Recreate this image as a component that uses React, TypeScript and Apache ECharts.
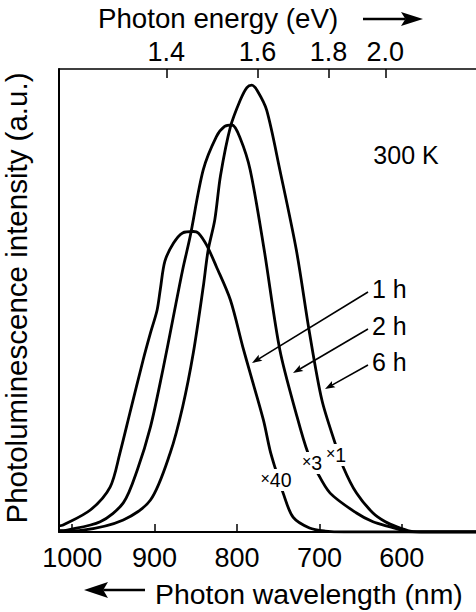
import React, { useEffect, useRef } from "react";
import * as echarts from "echarts";

// Bottom axis: photon wavelength (nm); top axis: photon energy (eV)
const wavelengthTicks = [1000, 900, 800, 700, 600];
const energyTicks = [1.4, 1.6, 1.8, 2.0];
const HC = 1240; // eV·nm

const seriesNames = ["1 h", "2 h", "6 h"];
const scaleLabels = ["×40", "×3", "×1"];

// [wavelength nm, PL intensity a.u.]
const curve1h: [number, number][] = [
  [1016, 1.3], [1011, 1.5], [978, 4.75], [954, 9.7], [942, 17.1], [930, 25.7],
  [914, 37.1], [905, 43.0], [897, 47.9], [893, 52.5], [887.5, 58.5], [877, 62.4],
  [866, 64.6], [853, 64.9], [847, 64.6], [837, 62.0], [825, 57.3], [808, 50.1],
  [793, 40.0], [784, 34.3], [768, 24.2], [760, 17.7], [754, 14.0], [744, 8.4],
  [732, 3.2], [712, 0.86], [693, 0.2], [670, 0], [510, 0],
];
const curve2h: [number, number][] = [
  [1016, 0.3], [1006, 0.43], [966, 2.2], [938, 6.3], [921, 13.4], [905, 22.7],
  [890, 35.0], [878, 45.8], [866, 56.6], [857, 63.7], [841, 78.2], [825, 85.4],
  [815, 87.6], [806, 87.9], [796, 85.0], [784, 78.2], [767, 60.9], [748, 39.3],
  [727, 24.8], [714, 17.1], [703, 13.0], [687, 8.4], [655, 4.1], [635, 2.2],
  [614, 1.1], [596, 0.2], [570, 0], [510, 0],
];
const curve6h: [number, number][] = [
  [1016, 0.2], [987, 0.4], [938, 2.6], [905, 6.9], [881, 17.1], [866, 27.0],
  [853, 38.7], [841, 52.9], [835, 60.9], [827, 67.4], [820, 77.0], [808, 87.5],
  [796, 93.3], [788, 96.0], [782, 96.5], [775, 95.2], [764, 91.1], [748, 78.2],
  [728, 60.9], [712, 43.0], [697, 28.5], [681, 19.2], [671, 14.0], [655, 8.4],
  [635, 4.1], [620, 2.2], [606, 1.1], [590, 0.2], [570, 0], [510, 0],
];

const FONT = "'Liberation Sans', Arial, Helvetica, sans-serif";

function arrow(x1: number, y1: number, x2: number, y2: number, len: number, half: number, width: number) {
  const dx = x2 - x1;
  const dy = y2 - y1;
  const L = Math.hypot(dx, dy);
  const ux = dx / L;
  const uy = dy / L;
  const nx = -uy;
  const ny = ux;
  const bx = x2 - ux * len;
  const by = y2 - uy * len;
  const ix = x2 - ux * len * 0.8;
  const iy = y2 - uy * len * 0.8;
  return [
    {
      type: "line",
      z: 100,
      shape: { x1, y1, x2: ix, y2: iy },
      style: { stroke: "#000", lineWidth: width },
    },
    {
      type: "polygon",
      z: 100,
      shape: {
        points: [
          [x2, y2],
          [bx + nx * half, by + ny * half],
          [ix, iy],
          [bx - nx * half, by - ny * half],
        ],
      },
      style: { fill: "#000" },
    },
  ];
}

export default function App() {
  const ref = useRef<HTMLDivElement>(null);
  useEffect(() => {
    const chart = echarts.init(ref.current!, null, { renderer: "svg" });
    const curves = [curve1h, curve2h, curve6h].map((c) =>
      c.slice().sort((a, b) => a[0] - b[0])
    );
    const scalePos = [
      [276, 480],
      [312, 463],
      [336, 455],
    ];
    const nameLabelY = [289, 326, 362];
    const arrowTips = [
      [252, 363],
      [293, 373],
      [325, 389],
    ];
    const graphics: any[] = [
      {
        type: "text",
        z: 100,
        x: 16,
        y: 298,
        rotation: Math.PI / 2,
        style: {
          text: "Photoluminescence intensity (a.u.)",
          font: `29.5px ${FONT}`,
          fill: "#000",
          align: "center",
          verticalAlign: "middle",
        },
      },
      {
        type: "text",
        z: 100,
        x: 98,
        y: 18,
        style: {
          text: "Photon energy (eV)",
          font: `27.7px ${FONT}`,
          fill: "#000",
          align: "left",
          verticalAlign: "middle",
        },
      },
      ...arrow(363, 19, 423, 19, 22, 7, 2.5),
      {
        type: "text",
        z: 100,
        x: 155,
        y: 594,
        style: {
          text: "Photon wavelength (nm)",
          font: `28.4px ${FONT}`,
          fill: "#000",
          align: "left",
          verticalAlign: "middle",
        },
      },
      ...arrow(145, 590, 84, 590, 24, 8, 2.5),
      {
        type: "text",
        z: 100,
        x: 406,
        y: 155,
        style: {
          text: "300 K",
          font: `25px ${FONT}`,
          fill: "#000",
          align: "center",
          verticalAlign: "middle",
        },
      },
    ];
    seriesNames.forEach((n, i) => {
      graphics.push({
        type: "text",
        z: 100,
        x: 372,
        y: nameLabelY[i],
        style: {
          text: n,
          font: `25px ${FONT}`,
          fill: "#000",
          align: "left",
          verticalAlign: "middle",
        },
      });
      graphics.push(...arrow(368, nameLabelY[i] + 3, arrowTips[i][0], arrowTips[i][1], 10, 3.5, 1.6));
      const lbl = scaleLabels[i];
      graphics.push({
        type: "text",
        z: 100,
        x: scalePos[i][0],
        y: scalePos[i][1],
        style: {
          text: `{a|${lbl.slice(0, 1)}}{b|${lbl.slice(1)}}`,
          align: "center",
          verticalAlign: "middle",
          backgroundColor: "#fff",
          padding: [1, 1],
          rich: {
            a: { font: `16px ${FONT}`, fill: "#000", verticalAlign: "top" },
            b: { font: `19.5px ${FONT}`, fill: "#000" },
          },
        },
      });
    });

    chart.setOption({
      animation: false,
      backgroundColor: "#fff",
      textStyle: { fontFamily: FONT },
      grid: { left: 59, top: 69, right: 0, bottom: 80, containLabel: false },
      xAxis: [
        {
          type: "value",
          position: "bottom",
          inverse: true,
          min: 510,
          max: 1016,
          axisLine: { show: true, lineStyle: { color: "#000", width: 2 } },
          axisTick: {
            show: true,
            inside: true,
            length: 8,
            customValues: wavelengthTicks,
            lineStyle: { color: "#000", width: 1.5 },
          },
          axisLabel: {
            customValues: wavelengthTicks,
            formatter: (v: number) => String(Math.round(v)),
            color: "#000",
            fontSize: 27,
            fontFamily: FONT,
            margin: 12,
          },
          splitLine: { show: false },
        },
        {
          type: "value",
          position: "top",
          inverse: true,
          min: 510,
          max: 1016,
          axisLine: { show: true, onZero: false, lineStyle: { color: "#000", width: 1.5 } },
          axisTick: {
            show: true,
            inside: true,
            length: 9,
            customValues: energyTicks.map((e) => HC / e),
            lineStyle: { color: "#000", width: 1.5 },
          },
          axisLabel: {
            customValues: energyTicks.map((e) => HC / e),
            formatter: (v: number) => (HC / v).toFixed(1),
            color: "#000",
            fontSize: 27,
            fontFamily: FONT,
            margin: 4,
          },
          splitLine: { show: false },
        },
      ],
      yAxis: {
        type: "value",
        min: 0,
        max: 100,
        axisLine: { show: true, lineStyle: { color: "#000", width: 2 } },
        axisTick: { show: false },
        axisLabel: { show: false },
        splitLine: { show: false },
      },
      series: curves.map((c, i) => ({
        name: seriesNames[i],
        type: "line",
        xAxisIndex: 0,
        data: c,
        showSymbol: false,
        smooth: 0.3,
        lineStyle: { color: "#000", width: 2.8 },
        z: 2,
      })),
      graphic: graphics,
    });
    return () => chart.dispose();
  }, []);
  return (
    <div
      ref={ref}
      style={{ position: "absolute", left: 0, top: 0, width: 476, height: 612 }}
    />
  );
}
